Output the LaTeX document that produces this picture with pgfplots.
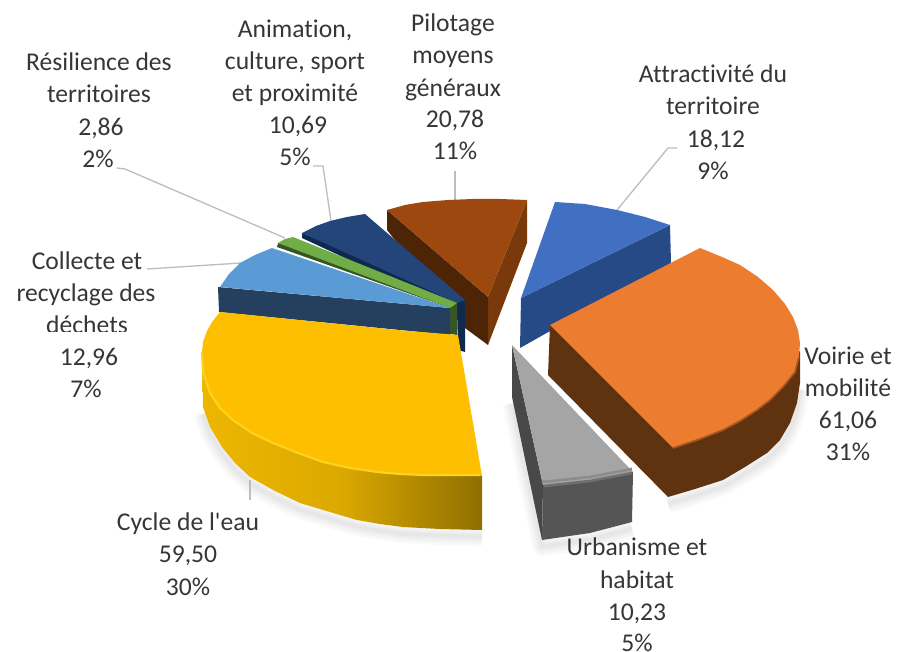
\documentclass[border=0pt]{standalone}
\usepackage{pgfplots}
\usepackage{pgfplotstable}
\pgfplotsset{compat=1.18}
\usepackage{fontspec}
\newfontfamily\labfont{Carlito}[Ligatures=NoCommon]
\definecolor{txt}{HTML}{363636}
\definecolor{lead}{HTML}{BDBDBD}
\definecolor{yTop}{HTML}{FDBF00}
\definecolor{yHi}{HTML}{FFD21F}
\definecolor{yA}{HTML}{EDB700}
\definecolor{yB}{HTML}{DBA900}
\definecolor{yC}{HTML}{8F6F00}
\definecolor{oTop}{HTML}{EC7C30}
\definecolor{oEdge}{HTML}{A9561F}
\definecolor{oWall}{HTML}{603310}
\definecolor{bTop}{HTML}{9C480E}
\definecolor{bLeft}{HTML}{4E2407}
\definecolor{bRight}{HTML}{7A390B}
\definecolor{blTop}{HTML}{4170C2}
\definecolor{blWall}{HTML}{264A85}
\definecolor{nTop}{HTML}{234579}
\definecolor{nWall}{HTML}{0E2A50}
\definecolor{gTop}{HTML}{70AD47}
\definecolor{gWall}{HTML}{375623}
\definecolor{lTop}{HTML}{5A9AD5}
\definecolor{lWall}{HTML}{24405E}
\definecolor{gyTop}{HTML}{A5A5A5}
\definecolor{gyEdge}{HTML}{707070}
\definecolor{gyMid}{HTML}{8C8C8C}
\definecolor{gyWall}{HTML}{555555}
\definecolor{gyLeft}{HTML}{484848}
\pgfplotstableread{
x y
203 407
210 427
222 447
235 463
250 477
275 491
300 503
330 512
357 520
380 524
403 527
440 529
482 530
}\wallY
\pgfplotstableread{
x y
668 497
695 489
723 480
745 467
767 453
780 440
790 423
797 403
800 383
}\wallO
\pgfplotstableread{
x y
512 397
542 540
590 533
632 522
}\wallG
\pgfplotstableread{
x y
202 352
203 372
210 393
220 408
233 420
252 433
273 443
298 453
323 462
350 468
377 472
400 474
423 475
450 475
480 475
}\arcY
\pgfplotstableread{
x y
799 357
795 372
783 387
770 400
757 410
740 421
723 430
700 439
673 448
}\arcO
\begin{document}
\begin{tikzpicture}[x=1pt,y=1pt]
\path[use as bounding box] (0,0) rectangle (674.25,489);
\begin{axis}[at={(0,0)},anchor=south west,scale only axis,width=674.25pt,height=489pt,
  xmin=0,xmax=899,ymin=0,ymax=652,y dir=reverse,hide axis,clip=false,
  every axis plot/.append style={no markers,forget plot,line join=round}]
% soft shadows
\addplot[draw=black,line width=14pt,opacity=0.022,yshift=-5pt] table {\wallY};
\addplot[draw=black,line width=14pt,opacity=0.022,yshift=-5pt] table {\wallO};
\addplot[draw=black,line width=14pt,opacity=0.022,yshift=-5pt] table {\wallG};
\addplot[draw=black,line width=10pt,opacity=0.022,yshift=-5pt] table {\wallY};
\addplot[draw=black,line width=10pt,opacity=0.022,yshift=-5pt] table {\wallO};
\addplot[draw=black,line width=10pt,opacity=0.022,yshift=-5pt] table {\wallG};
\addplot[draw=black,line width=6pt,opacity=0.022,yshift=-5pt] table {\wallY};
\addplot[draw=black,line width=6pt,opacity=0.022,yshift=-5pt] table {\wallO};
\addplot[draw=black,line width=6pt,opacity=0.022,yshift=-5pt] table {\wallG};
\addplot[draw=black,line width=3pt,opacity=0.022,yshift=-5pt] table {\wallY};
\addplot[draw=black,line width=3pt,opacity=0.022,yshift=-5pt] table {\wallO};
\addplot[draw=black,line width=3pt,opacity=0.022,yshift=-5pt] table {\wallG};
% leader lines
\addplot[draw=lead,line width=1pt] coordinates {(117,168)(125,169)(285,238)};
\addplot[draw=lead,line width=1pt] coordinates {(313,166)(323,166)(331,221)};
\addplot[draw=lead,line width=1pt] coordinates {(455,171)(455,200)};
\addplot[draw=lead,line width=1pt] coordinates {(677,148)(668,148)(617,210)};
\addplot[draw=lead,line width=1pt] coordinates {(147,269)(241,263)};
\addplot[draw=lead,line width=1pt] coordinates {(250,480)(250,500)};
% Pilotage
\addplot[fill=bRight,draw=none] coordinates {(527,200)(527,243)(488,345)(488,297)} --cycle;
\addplot[fill=bLeft,draw=none] coordinates {(387,210)(387,230)(465,328)(488,345)(488,297)} --cycle;
\addplot[fill=bTop,draw=none] coordinates {(387,210)(405,205)(423,202)(448,200)(473,199)(500,199)(527,200)(488,297)} --cycle;
% Attractivite
\addplot[fill=blWall,draw=none] coordinates {(521,298)(670,225)(671,263)(520,348)} --cycle;
\addplot[fill=blTop,draw=none] coordinates {(555,202)(585,204)(617,210)(645,217)(670,225)(521,298)} --cycle;
% Animation
\addplot[fill=nWall,draw=none] coordinates {(302,233)(465,300)(465,352)(458,350)(457,310)(302,238)} --cycle;
\addplot[fill=nTop,draw=none] coordinates {(302,233)(316,226)(330,221)(347,217)(365,214)(465,300)(457,303)} --cycle;
% Resilience
\addplot[fill=gWall,draw=none] coordinates {(277,247)(278,243)(457,302)(457,335)(450,334)(450,308)} --cycle;
\addplot[fill=gTop,draw=none] coordinates {(278,243)(285,239)(293,237)(457,303)(450,308)} --cycle;
% Collecte
\addplot[fill=lWall,draw=none] coordinates {(218,287)(450,308)(450,335)(219,312)} --cycle;
\addplot[fill=lTop,draw=none] coordinates {(220,287)(229,274)(240,263)(255,255)(272,248)(450,308)} --cycle;
% Cycle de l'eau wall
\addplot[draw=none,left color=yA,right color=yB] coordinates {(202,350)(203,407)(210,427)(222,447)(235,463)(250,477)(275,491)(300,503)(340,515)(340,460)(250,420)} --cycle;
\addplot[draw=none,left color=yB,right color=yC] coordinates {(340,460)(340,515)(357,520)(380,524)(403,527)(440,529)(482,530)(482,476)(460,470)} --cycle;
\addplot[fill=yTop,draw=none] coordinates {(220,312)(397,330)(458,335)(482,476)(450,475)(423,475)(400,474)(377,472)(350,468)(323,462)(298,453)(273,443)(252,433)(233,420)(220,408)(210,393)(203,372)(202,352)(203,342)(207,331)(212,322)} --cycle;
\addplot[draw=yHi,line width=1.6pt] table {\arcY};
% Voirie
\addplot[fill=oWall,draw=none] coordinates {(550,325)(548,375)(668,497)(695,489)(723,480)(745,467)(767,453)(780,440)(790,423)(797,403)(800,383)(800,352)(700,250)} --cycle;
\addplot[fill=oTop,draw=none] coordinates {(550,325)(700,248)(722,257)(740,265)(758,277)(773,290)(785,304)(793,317)(798,330)(800,343)(799,357)(795,372)(783,387)(770,400)(757,410)(740,421)(723,430)(700,439)(673,448)} --cycle;
\addplot[draw=oEdge,line width=1.3pt] table {\arcO};
% Urbanisme
\addplot[fill=gyLeft,draw=none] coordinates {(512,345)(512,397)(542,540)(543,485)} --cycle;
\addplot[fill=gyWall,draw=none] coordinates {(543,485)(590,480)(633,472)(632,522)(590,533)(542,540)} --cycle;
\addplot[fill=gyTop,draw=none] coordinates {(512,345)(633,472)(590,480)(543,485)} --cycle;
\addplot[draw=gyMid,line width=2pt] coordinates {(542,482)(590,477)(632,469)};
\addplot[draw=gyEdge,line width=2pt] coordinates {(544,486)(590,481)(632,473)};
\addplot[draw=gyWall,line width=1.5pt] coordinates {(544,489)(590,484)(632,476)};
% labels
\tikzset{lab/.style={anchor=base,text=txt,inner sep=0pt,font=\labfont\fontsize{19.2}{22}\selectfont}}
\node[lab] at (axis cs:99,71) {Résilience des};
\node[lab] at (axis cs:99,103) {territoires};
\node[lab] at (axis cs:101,136) {2,86};
\node[lab] at (axis cs:98,168) {2\%};
\node[lab] at (axis cs:295,38) {Animation,};
\node[lab] at (axis cs:295,70) {culture, sport};
\node[lab] at (axis cs:295,102) {et proximité};
\node[lab] at (axis cs:298,134) {10,69};
\node[lab] at (axis cs:295,166) {5\%};
\node[lab] at (axis cs:453,32) {Pilotage};
\node[lab] at (axis cs:453,64) {moyens};
\node[lab] at (axis cs:453,97) {généraux};
\node[lab] at (axis cs:455,128) {20,78};
\node[lab] at (axis cs:455,160) {11\%};
\node[lab] at (axis cs:713,83) {Attractivité du};
\node[lab] at (axis cs:713,115) {territoire};
\node[lab] at (axis cs:716,148) {18,12};
\node[lab] at (axis cs:713,180) {9\%};
\node[lab] at (axis cs:87,269) {Collecte et};
\node[lab] at (axis cs:86,301) {recyclage des};
\node[lab] at (axis cs:87,333.5) {déchets};
\node[lab] at (axis cs:89,365) {12,96};
\node[lab] at (axis cs:86,397) {7\%};
\node[lab] at (axis cs:848,364) {Voirie et};
\node[lab] at (axis cs:848,396) {mobilité};
\node[lab] at (axis cs:848,428) {61,06};
\node[lab] at (axis cs:848,460) {31\%};
\node[lab] at (axis cs:188,530) {Cycle de l'eau};
\node[lab] at (axis cs:188,562) {59,50};
\node[lab] at (axis cs:188,595) {30\%};
\node[lab] at (axis cs:637,555) {Urbanisme et};
\node[lab] at (axis cs:637,588) {habitat};
\node[lab] at (axis cs:637,620) {10,23};
\node[lab] at (axis cs:637,651) {5\%};
\addplot[fill=white,draw=none] coordinates {(30,331.5)(140,331.5)(140,341)(30,341)} --cycle;
\end{axis}
\end{tikzpicture}
\end{document}
